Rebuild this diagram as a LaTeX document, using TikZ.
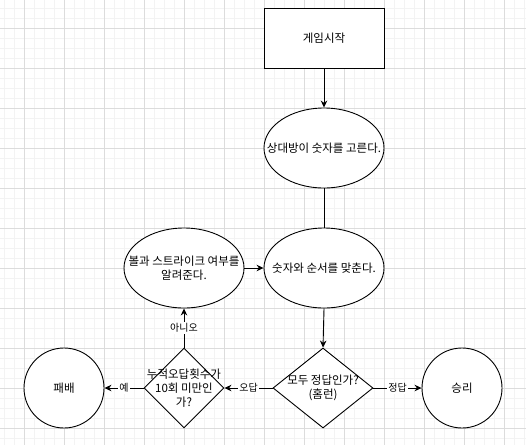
\documentclass[tikz,border=0pt]{standalone}
\usepackage{fontspec}
\setmainfont{Noto Sans CJK KR}
\usetikzlibrary{shapes.geometric,arrows.meta}
\definecolor{gmajor}{HTML}{DCDCDC}
\definecolor{gminor}{HTML}{F3F3F3}
\tikzset{
  shapeline/.style={draw=black, line width=0.9pt, inner sep=0pt, fill=white},
  boxnode/.style={shapeline, rectangle, minimum width=120, minimum height=60},
  ellnode/.style={shapeline, ellipse, minimum width=120, minimum height=80},
  circnode/.style={shapeline, circle, minimum size=80},
  decnode/.style={shapeline, diamond, minimum height=80},
  txt/.style={font=\fontsize{11.5}{14}\selectfont, align=center, inner sep=0pt},
  conn/.style={draw=black, line width=0.9pt},
  arr/.style={conn, -{Stealth[length=7pt,width=6.5pt]}},
  lbl/.style={fill=white, inner sep=1pt, font=\fontsize{10}{12}\selectfont}
}
\begin{document}
\begin{tikzpicture}[x=1pt,y=-1pt]
\useasboundingbox (0,0) rectangle (526,445);
\fill[white] (0,0) rectangle (526,445);
\foreach \x in {4,14,...,524} \draw[gminor, line width=0.8pt] (\x,0) -- (\x,445);
\foreach \y in {8,18,...,438} \draw[gminor, line width=0.8pt] (0,\y) -- (526,\y);
\foreach \x in {24,64,...,504} \draw[gmajor, line width=0.8pt] (\x,0) -- (\x,445);
\foreach \y in {28,68,...,428} \draw[gmajor, line width=0.8pt] (0,\y) -- (526,\y);

\node[boxnode] (start) at (324,38) {};
\node[txt] (starttxt) at (start.center) {게임시작};
\node[ellnode] (pick) at (324,148) {};
\node[txt] (picktxt) at (pick.center) {상대방이 숫자를 고른다.};
\node[ellnode] (guess) at (324,268) {};
\node[txt] (guesstxt) at (guess.center) {숫자와 순서를 맞춘다.};
\node[ellnode] (hint) at (184,268) {};
\node[txt] (hinttxt) at (hint.center) {볼과 스트라이크 여부를\\알려준다.};
\node[decnode, minimum width=100] (allok) at (323,388) {};
\node[txt] (alloktxt) at (allok.center) {모두 정답인가?\\(홈런)};
\node[decnode, minimum width=80] (count) at (184,388) {};
\node[txt] (counttxt) at (count.center) {누적오답횟수가\\10회 미만인\\가?};
\node[circnode] (win) at (462,388) {};
\node[txt] (wintxt) at (win.center) {승리};
\node[circnode] (lose) at (64,388) {};
\node[txt] (losetxt) at (lose.center) {패배};

\draw[arr] (start.south) -- (pick.north);
\draw[conn] (pick.south) -- (guess.north);
\draw[arr] (hint.east) -- (guess.west);
\draw[arr] (guess.south) -- (allok.north);
\draw[arr] (allok.east) -- node[lbl] {정답} (win.west);
\draw[arr] (allok.west) -- node[lbl] {오답} (count.east);
\draw[arr] (count.west) -- node[lbl] {예} (lose.east);
\draw[arr] (count.north) -- node[lbl] {아니오} (hint.south);
\end{tikzpicture}
\end{document}
